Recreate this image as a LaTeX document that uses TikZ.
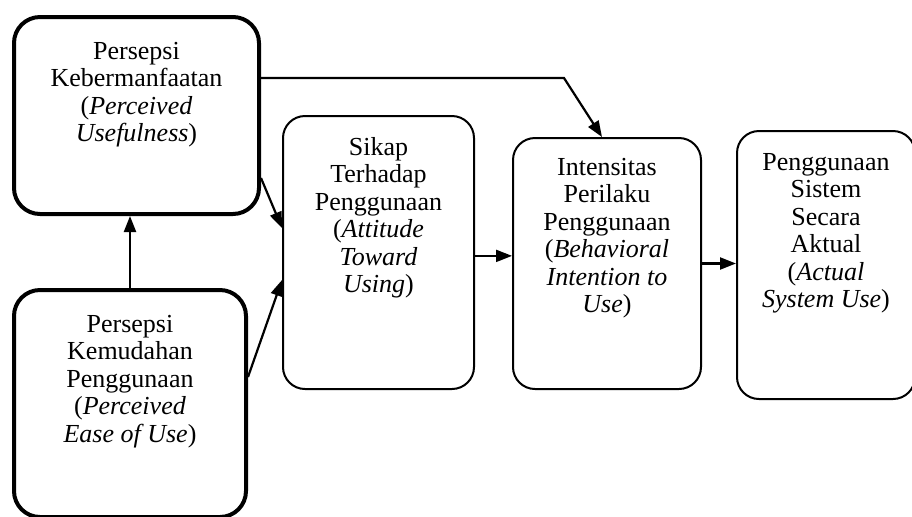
\documentclass[tikz,border=0pt]{standalone}
\usepackage{fontspec}
\setmainfont{Liberation Serif}
\usepackage{tikz}
\usetikzlibrary{arrows.meta,positioning}

% box text: width, height, top gap, lines
\newcommand{\boxtext}[4]{\parbox[c][#2][t]{#1}{\centering\vspace*{#3}#4}}

\begin{document}
\begin{tikzpicture}[
    x=0.5pt, y=-0.5pt,
    node distance=18pt,
    font=\fontsize{13}{13.75}\selectfont,
    block/.style={rectangle, draw, line width=1pt, rounded corners=11pt, inner sep=0pt},
    mainblock/.style={block, line width=2pt, rounded corners=13pt},
    arrow/.style={line width=1.1pt, -{Triangle[length=8pt,width=6pt]}}
]
\useasboundingbox (0,0) rectangle (912,516);

% Perceptions
\node[mainblock] (pu) at (136.5,115.5) {\boxtext{122.5pt}{98.5pt}{12.5pt}{Persepsi\\Kebermanfaatan\\(\textit{Perceived}\\\textit{Usefulness})}};
\node[mainblock, below right=36pt and 0pt of pu.south west] (peou) {\boxtext{116pt}{113.5pt}{12.5pt}{Persepsi\\Kemudahan\\Penggunaan\\(\textit{Perceived}\\\textit{Ease of Use})}};

% Attitude, intention, use
\node[block] (atu) at (378.5,252.5) {\boxtext{95.5pt}{136.5pt}{10.5pt}{Sikap\\Terhadap\\Penggunaan\\(\textit{Attitude}\\\textit{Toward}\\\textit{Using})}};
\node[block, right=18.5pt of atu, yshift=-5.5pt] (bi) {\boxtext{94pt}{125.5pt}{10pt}{Intensitas\\Perilaku\\Penggunaan\\(\textit{Behavioral}\\\textit{Intention to}\\\textit{Use})}};
\node[block, right=17pt of bi, yshift=-0.75pt] (au) {\boxtext{89pt}{134pt}{11pt}{Penggunaan\\Sistem\\Secara\\Aktual\\(\textit{Actual}\\\textit{System Use})}};

% Arrows
\draw[arrow] (peou.north) -- (peou.north |- pu.south);
\draw[arrow] ([yshift=-31.25pt]pu.east) -- ([yshift=12.25pt]atu.west);
\draw[arrow] ([yshift=13.25pt]peou.east) -- ([yshift=-13.75pt]atu.west);
\draw[arrow] ([yshift=18.75pt]pu.east) -- ++(151.5pt,0) -- ([xshift=-2.5pt]bi.north);

\draw[arrow] (atu.-2.1) -- (atu.-2.1 -| bi.west);
\draw[arrow] (bi.east) -- (bi.east -| au.west);

\end{tikzpicture}
\end{document}
